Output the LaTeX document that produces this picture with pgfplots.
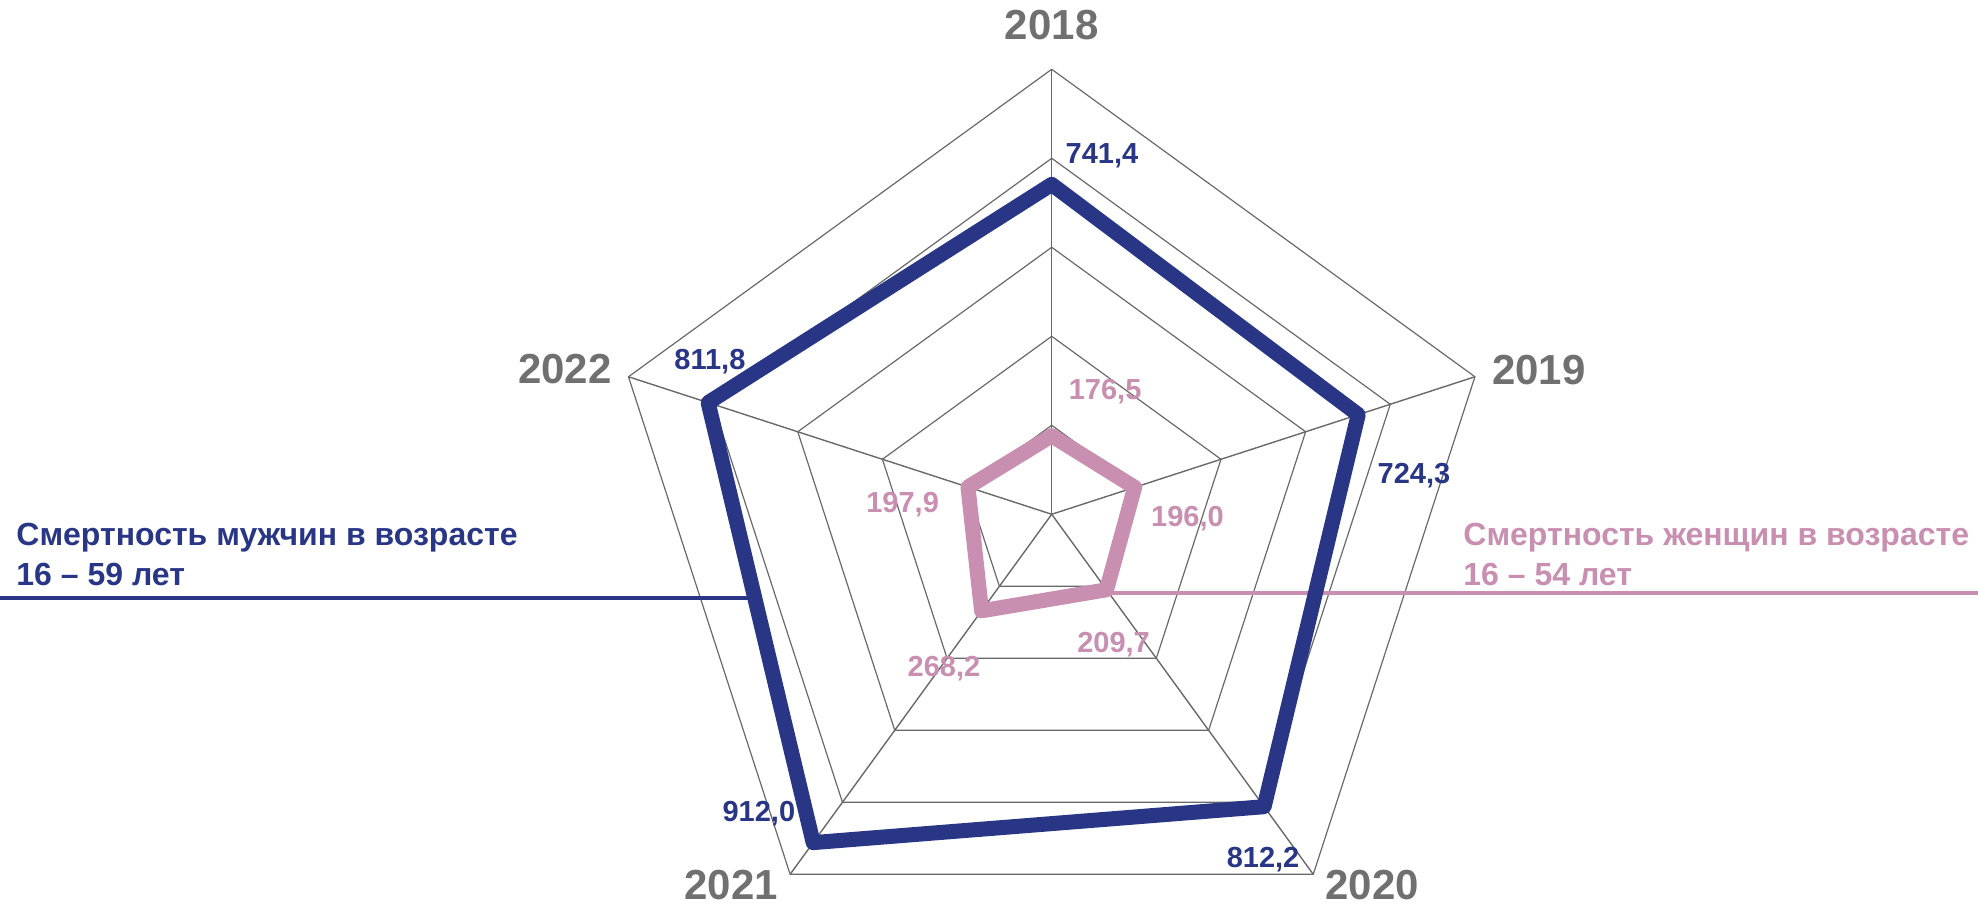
\documentclass[border=0pt]{standalone}
\usepackage{fontspec}
\setmainfont{Liberation Sans}
\usepackage{pgfplots}
\pgfplotsset{compat=1.18}
\definecolor{male}{RGB}{41,54,134}
\definecolor{female}{RGB}{200,143,176}
\definecolor{gridc}{RGB}{105,105,105}
\definecolor{yearc}{RGB}{112,112,112}
\begin{document}
\begin{tikzpicture}
\begin{axis}[scale only axis, width=989pt, height=452.5pt,
  xmin=-2363.4, xmax=2081.6, ymin=-878, ymax=1155.7,
  hide axis, clip=false]
\coordinate (SW) at (rel axis cs:0,0);
\coordinate (NE) at (rel axis cs:1,1);
% grid rings
\addplot[gridc, line width=0.6pt, data cs=polar] coordinates {(90,200) (18,200) (-54,200) (-126,200) (162,200) (90,200)};
\addplot[gridc, line width=0.6pt, data cs=polar] coordinates {(90,400) (18,400) (-54,400) (-126,400) (162,400) (90,400)};
\addplot[gridc, line width=0.6pt, data cs=polar] coordinates {(90,600) (18,600) (-54,600) (-126,600) (162,600) (90,600)};
\addplot[gridc, line width=0.6pt, data cs=polar] coordinates {(90,800) (18,800) (-54,800) (-126,800) (162,800) (90,800)};
\addplot[gridc, line width=0.6pt, data cs=polar] coordinates {(90,1000) (18,1000) (-54,1000) (-126,1000) (162,1000) (90,1000)};
% spokes
\addplot[gridc, line width=0.7pt, data cs=polar] coordinates {(90,0) (90,1000)};
\addplot[gridc, line width=0.7pt, data cs=polar] coordinates {(18,0) (18,1000)};
\addplot[gridc, line width=0.7pt, data cs=polar] coordinates {(-54,0) (-54,1000)};
\addplot[gridc, line width=0.7pt, data cs=polar] coordinates {(-126,0) (-126,1000)};
\addplot[gridc, line width=0.7pt, data cs=polar] coordinates {(162,0) (162,1000)};
% legend lines
\draw[male, line width=2pt] (axis cs:-2363.4,-188.8) -- (axis cs:-662,-188.8);
\draw[female, line width=2pt] (axis cs:134.8,-177.5) -- (axis cs:2081.6,-177.5);
% data: male
\addplot[male, line width=7.5pt, line join=round, line cap=round, data cs=polar]
  coordinates {(90,741.4) (18,724.3) (-54,812.2) (-126,912.0) (162,811.8) (90,741.4)};
% data: female
\addplot[female, line width=7.5pt, line join=round, line cap=round, data cs=polar]
  coordinates {(90,176.5) (18,196.0) (-54,209.7) (-126,268.2) (162,197.9) (90,176.5)};
% year labels
\begin{scope}[every node/.style={anchor=base, text=yearc, font=\fontsize{21}{24}\selectfont\bfseries, inner sep=0pt}]
\node at (axis cs:0,1066) {2018};
\node at (axis cs:1095,290.6) {2019};
\node at (axis cs:720,-866) {2020};
\node at (axis cs:-720,-866) {2021};
\node at (axis cs:-1094,293.3) {2022};
\end{scope}
% value labels
\begin{scope}[every node/.style={anchor=base, font=\fontsize{14.5}{17}\selectfont\bfseries, inner sep=0pt}]
\node[text=male] at (axis cs:113,788.8) {741,4};
\node[text=male] at (axis cs:814,68.1) {724,3};
\node[text=male] at (axis cs:475,-794.8) {812,2};
\node[text=male] at (axis cs:-658,-690.8) {912,0};
\node[text=male] at (axis cs:-768,324.3) {811,8};
\node[text=female] at (axis cs:120,256.9) {176,5};
\node[text=female] at (axis cs:305,-27.9) {196,0};
\node[text=female] at (axis cs:139,-311.7) {209,7};
\node[text=female] at (axis cs:-242,-365) {268,2};
\node[text=female] at (axis cs:-335,2.9) {197,9};
\end{scope}
% series annotations (anchor at baseline of the last line)
\node[anchor=base west, inner sep=0pt, text=male, align=left, font=\fontsize{16}{20}\selectfont\bfseries] at (axis cs:-2327.4,-161.1) {Смертность мужчин в возрасте\\16 – 59 лет};
\node[anchor=base west, inner sep=0pt, text=female, align=left, font=\fontsize{16}{20}\selectfont\bfseries] at (axis cs:924.3,-161.1) {Смертность женщин в возрасте\\16 – 54 лет};
\end{axis}
\pgfresetboundingbox
\useasboundingbox (SW) rectangle (NE);
\end{tikzpicture}
\end{document}
